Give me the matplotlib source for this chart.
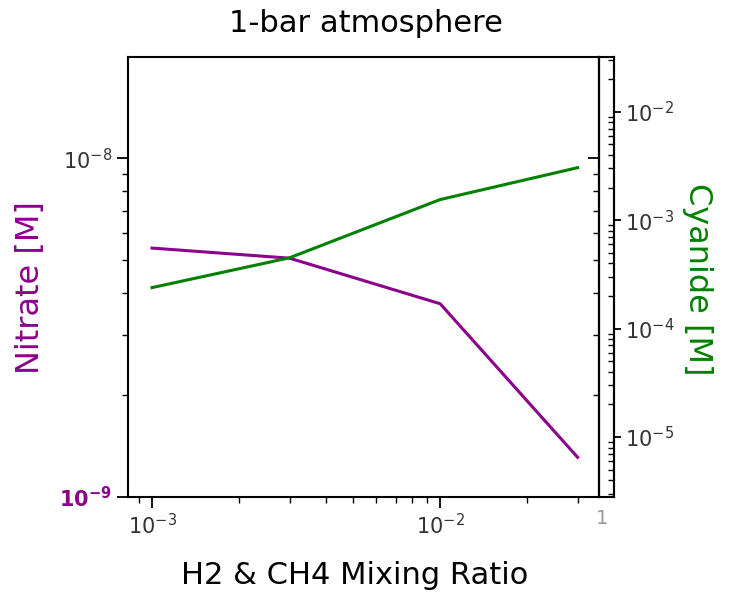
import matplotlib
matplotlib.use("Agg")
import matplotlib.pyplot as plt
from matplotlib.ticker import LogLocator, NullFormatter

# Data
mixing_ratio = [1e-3, 3e-3, 1e-2, 3e-2]
nitrate = [5.43e-9, 5.07e-9, 3.72e-9, 1.31e-9]
cyanide = [2.39e-4, 4.5e-4, 1.55e-3, 3.05e-3]

title = "1-bar atmosphere"
xlabel = "H2 & CH4 Mixing Ratio"
ylabel_left = "Nitrate [M]"
ylabel_right = "Cyanide [M]"

W, H = 733, 600
fig = plt.figure(figsize=(W / 100, H / 100), dpi=100)

def px(x0, y0, x1, y1):
    return [x0 / W, 1 - y1 / H, (x1 - x0) / W, (y1 - y0) / H]

purple = "#8b008b"
green = "#008000"
tickc = "#333333"
lab_font = "DejaVu Sans"

ax = fig.add_axes(px(128, 57, 599, 497))
ax.set_xscale("log")
ax.set_yscale("log")
ax.plot(mixing_ratio, nitrate, color=purple, lw=2.2)
ax.set_xlim(8.25e-4, 3.56e-2)
ax.set_ylim(1e-9, 1.99e-8)
for s in ax.spines.values():
    s.set_linewidth(1.5)
ax.tick_params(axis="both", which="major", length=8, width=1.3, direction="out",
               labelsize=15, labelcolor=tickc, right=False)
ax.tick_params(axis="both", which="minor", length=4, width=1.0, direction="out", right=False)
ax.yaxis.set_major_locator(LogLocator(base=10, numticks=10))
ax.xaxis.set_minor_formatter(NullFormatter())
ax.yaxis.set_minor_formatter(NullFormatter())
fig.canvas.draw()
for lbl in ax.get_yticklabels():
    if "9" in lbl.get_text():
        lbl.set_color(purple)
        lbl.set_fontweight("bold")

# inward ticks on the main right spine
sec = ax.secondary_yaxis("right")
sec.set_yscale("log")
sec.tick_params(which="major", direction="in", length=8, width=1.3, labelright=False)
sec.tick_params(which="minor", direction="in", length=4, width=1.0)
sec.yaxis.set_minor_formatter(NullFormatter())
sec.spines["right"].set_linewidth(1.5)

# twin axis for cyanide
ax2 = ax.twinx()
ax2.set_yscale("log")
ax2.plot(mixing_ratio, cyanide, color=green, lw=2.2)
ax2.set_ylim(2.8e-6, 3.2e-2)
for k in ["left", "top", "bottom"]:
    ax2.spines[k].set_visible(False)
ax2.spines["right"].set_position(("outward", 15 * 72 / 100))
ax2.spines["right"].set_linewidth(1.5)
ax2.tick_params(which="major", direction="out", length=5, width=1.3, pad=3,
                labelsize=15, labelcolor=tickc)
ax2.tick_params(which="minor", direction="in", length=4, width=1.0)
ax2.yaxis.set_major_locator(LogLocator(base=10, numticks=10))
ax2.yaxis.set_minor_formatter(NullFormatter())

# gap box
gap = fig.add_axes(px(599, 57, 614, 497))
gap.set_xticks([])
gap.set_yticks([])
for s in gap.spines.values():
    s.set_linewidth(1.5)
gap.patch.set_alpha(0)

fig.text(366 / W, 1 - 24 / H, title, fontsize=22, family=lab_font, ha="center", va="center")
fig.text(355 / W, 1 - 576 / H, xlabel, fontsize=22, family=lab_font, ha="center", va="center")
fig.text(31 / W, 1 - 288 / H, ylabel_left, fontsize=23, family=lab_font, color=purple,
         rotation=90, ha="center", va="center")
fig.text(697 / W, 1 - 279 / H, ylabel_right, fontsize=23, family=lab_font, color=green,
         rotation=270, ha="center", va="center")
fig.text(602 / W, 1 - 519 / H, "1", fontsize=14, color="#999999", ha="center", va="center")

fig.savefig("out.png", dpi=100)
